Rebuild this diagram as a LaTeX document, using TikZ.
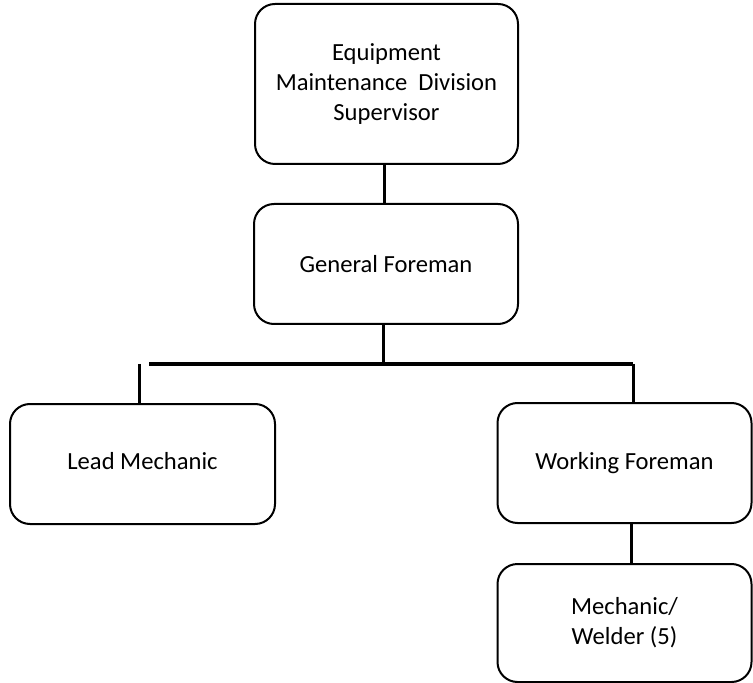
\documentclass[tikz,border=0pt]{standalone}
\usepackage{fontspec}
\setmainfont{Carlito}
\usepackage{tikz}

\tikzset{
  box/.style={draw, rectangle, rounded corners=10pt, line width=1pt, align=center,
    font=\fontsize{12.3}{15}\selectfont, inner sep=0pt},
  link/.style={line width=1.5pt}
}

\begin{document}
\begin{tikzpicture}[x=0.5pt, y=-0.5pt]
            \useasboundingbox (0,0) rectangle (753,683);

            \node [box, minimum width=131.5pt, minimum height=80pt] (super) at (386.5,84) {Equipment\\Maintenance\hspace{0.45em}Division\\Supervisor};
            \node [box, minimum width=132pt, minimum height=60pt] (general) at (386,264) {General Foreman};

            \node [box, minimum width=132.5pt, minimum height=60pt] (lead) at (142.5,464) {\raisebox{3pt}{Lead Mechanic}};
            \node [box, minimum width=127pt, minimum height=60pt] (working) at (624.5,463) {Working Foreman};
            \node [box, minimum width=127pt, minimum height=59pt] (welder) at (624.5,623) {Mechanic/\\Welder (5)};

            \coordinate (trunk) at (384,200);
            \coordinate (bus) at (383,364);
            \coordinate (busleft) at (149,364);
            \coordinate (busright) at (633,364);
            \coordinate (dropleft) at (139,364);
            \coordinate (dropright) at (631,544);

            \draw[link] (super.south -| trunk) -- (general.north -| trunk);
            \draw[link] (general.south -| bus) -- (bus);
            \draw[link] (busleft) -- (busright);
            \draw[link] (dropleft) -- (dropleft |- lead.north);
            \draw[link] (busright) -- (busright |- working.north);
            \draw[link] (working.south -| dropright) -- (welder.north -| dropright);
        \end{tikzpicture}
\end{document}
